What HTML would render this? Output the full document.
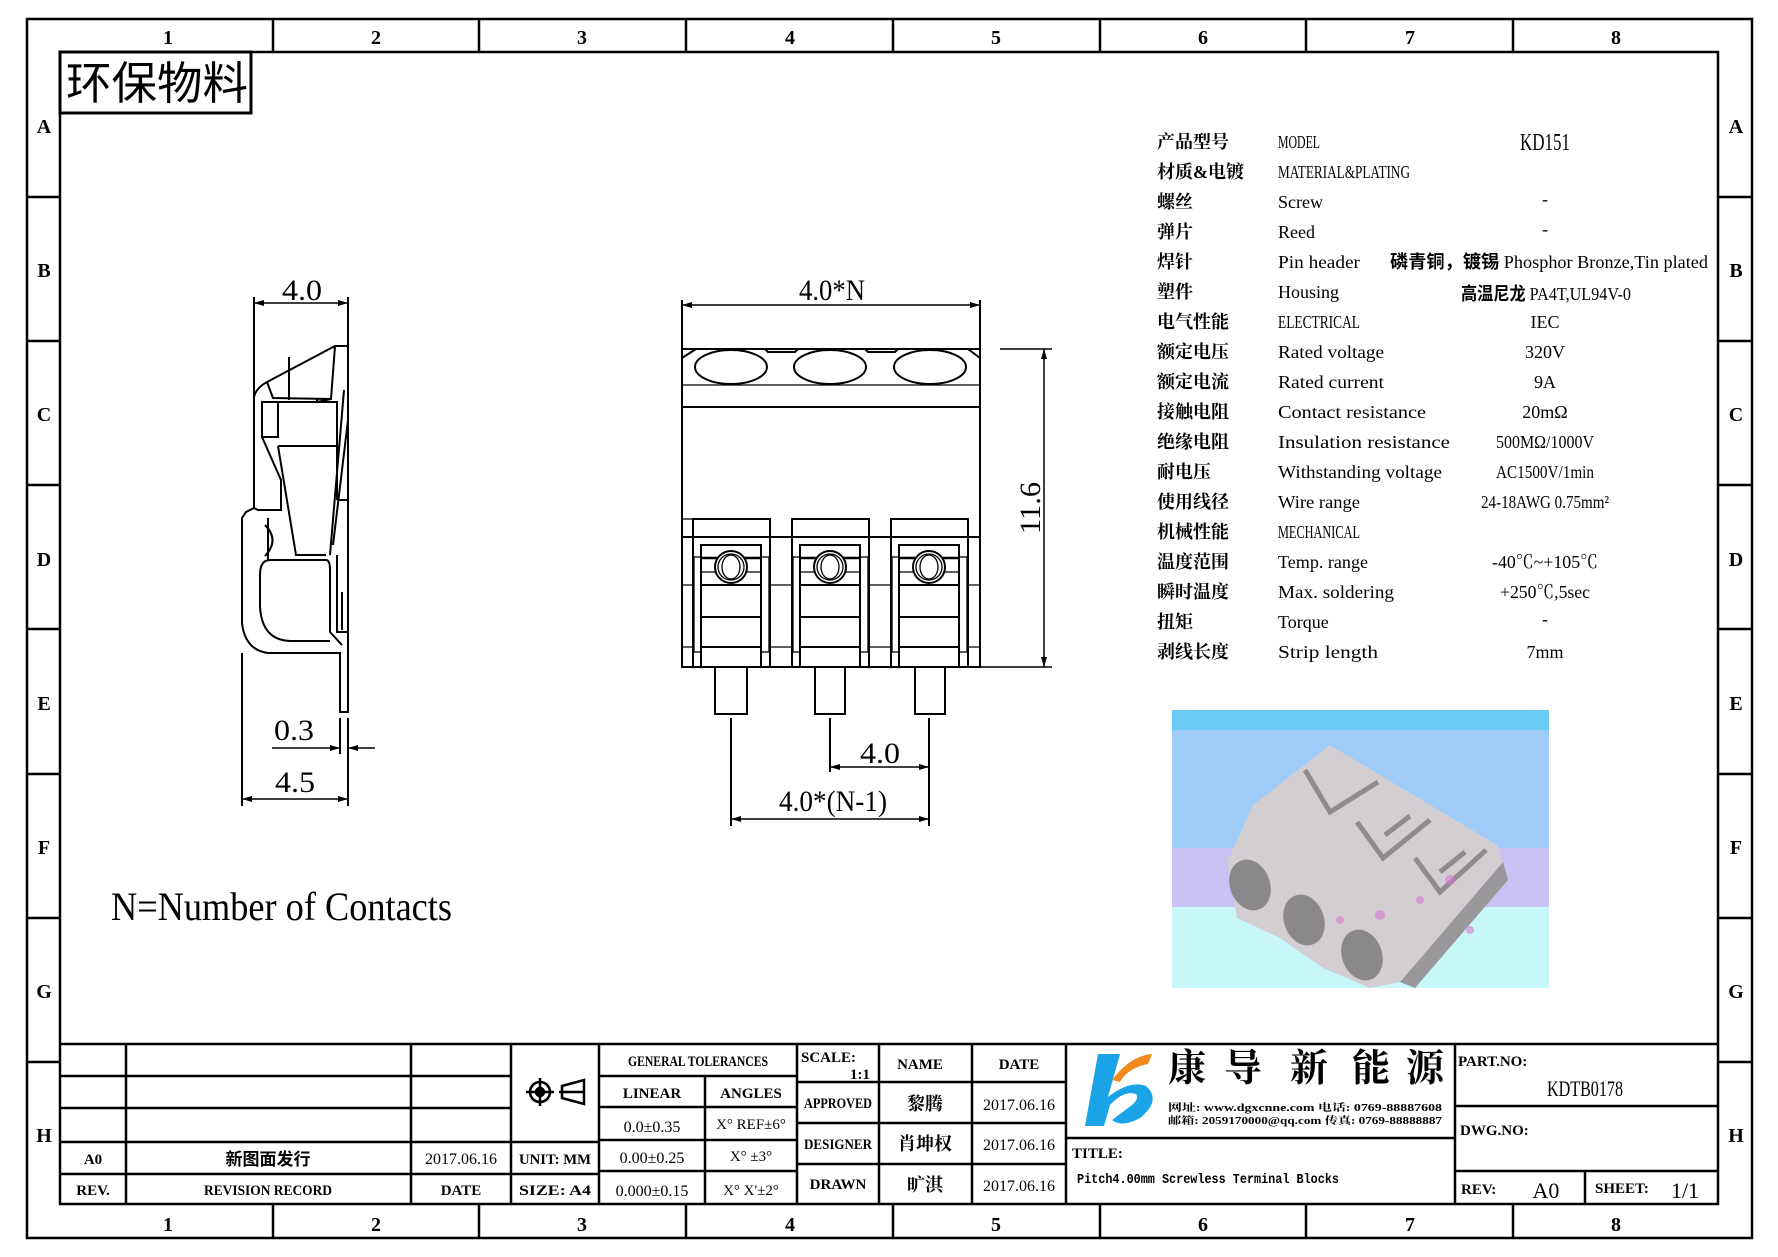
<!DOCTYPE html>
<html><head><meta charset="utf-8"><style>
html,body{margin:0;padding:0;background:#fff;}
svg{display:block;}
text{font-family:"Liberation Serif","Noto Serif CJK SC","Noto Sans CJK SC",serif;fill:#000;}
.s{font-family:"Liberation Sans","Noto Sans CJK SC",sans-serif;font-weight:bold;}
.cj{font-family:"Liberation Serif","Noto Sans CJK SC",sans-serif;font-weight:bold;}
</style></head><body>
<svg width="1778" height="1257" viewBox="0 0 1778 1257" xmlns="http://www.w3.org/2000/svg">
<defs>
<marker id="ar" viewBox="0 0 10 6" refX="10" refY="3" markerWidth="10" markerHeight="6" orient="auto-start-reverse" markerUnits="userSpaceOnUse"><path d="M0,0 L10,3 L0,6 z" fill="#000"/></marker>
</defs>
<!-- frames -->
<rect x="27" y="19" width="1725" height="1219" fill="none" stroke="#000" stroke-width="2.5"/>
<rect x="60" y="52" width="1658" height="1152" fill="none" stroke="#000" stroke-width="2.5"/>
<g stroke="#000" stroke-width="2.5">
<line x1="273" y1="19" x2="273" y2="52"/><line x1="479" y1="19" x2="479" y2="52"/><line x1="686" y1="19" x2="686" y2="52"/><line x1="893" y1="19" x2="893" y2="52"/><line x1="1100" y1="19" x2="1100" y2="52"/><line x1="1306" y1="19" x2="1306" y2="52"/><line x1="1513" y1="19" x2="1513" y2="52"/>
<line x1="273" y1="1204" x2="273" y2="1238"/><line x1="479" y1="1204" x2="479" y2="1238"/><line x1="686" y1="1204" x2="686" y2="1238"/><line x1="893" y1="1204" x2="893" y2="1238"/><line x1="1100" y1="1204" x2="1100" y2="1238"/><line x1="1306" y1="1204" x2="1306" y2="1238"/><line x1="1513" y1="1204" x2="1513" y2="1238"/>
<line x1="27" y1="197" x2="60" y2="197"/><line x1="27" y1="341" x2="60" y2="341"/><line x1="27" y1="485" x2="60" y2="485"/><line x1="27" y1="629" x2="60" y2="629"/><line x1="27" y1="774" x2="60" y2="774"/><line x1="27" y1="918" x2="60" y2="918"/><line x1="27" y1="1062" x2="60" y2="1062"/>
<line x1="1718" y1="197" x2="1752" y2="197"/><line x1="1718" y1="341" x2="1752" y2="341"/><line x1="1718" y1="485" x2="1752" y2="485"/><line x1="1718" y1="629" x2="1752" y2="629"/><line x1="1718" y1="774" x2="1752" y2="774"/><line x1="1718" y1="918" x2="1752" y2="918"/><line x1="1718" y1="1062" x2="1752" y2="1062"/>
</g>
<g class="s" font-size="20" text-anchor="middle">
<text x="168" y="44">1</text><text x="376" y="44">2</text><text x="582" y="44">3</text><text x="790" y="44">4</text><text x="996" y="44">5</text><text x="1203" y="44">6</text><text x="1410" y="44">7</text><text x="1616" y="44">8</text>
<text x="168" y="1231">1</text><text x="376" y="1231">2</text><text x="582" y="1231">3</text><text x="790" y="1231">4</text><text x="996" y="1231">5</text><text x="1203" y="1231">6</text><text x="1410" y="1231">7</text><text x="1616" y="1231">8</text>
<text x="44" y="133">A</text><text x="44" y="277">B</text><text x="44" y="421">C</text><text x="44" y="566">D</text><text x="44" y="710">E</text><text x="44" y="854">F</text><text x="44" y="998">G</text><text x="44" y="1142">H</text>
<text x="1736" y="133">A</text><text x="1736" y="277">B</text><text x="1736" y="421">C</text><text x="1736" y="566">D</text><text x="1736" y="710">E</text><text x="1736" y="854">F</text><text x="1736" y="998">G</text><text x="1736" y="1142">H</text>
</g>
<!-- 环保物料 -->
<rect x="60" y="52" width="191" height="61" fill="none" stroke="#000" stroke-width="3"/>
<text x="66" y="99" font-size="45" textLength="182" lengthAdjust="spacingAndGlyphs" style="font-family:'Noto Sans CJK SC',sans-serif">环保物料</text>

<!-- SIDE VIEW -->
<g fill="none" stroke="#000" stroke-width="2">
<line x1="254" y1="297" x2="254" y2="397"/><line x1="348" y1="297" x2="348" y2="346"/>
<line x1="254" y1="303" x2="348" y2="303" marker-start="url(#ar)" marker-end="url(#ar)" stroke-width="1.5"/>
<path d="M348,346 L335,346 L267,382 Q256,388 254,397 L254,508 L246,512 L242,518 L242,623 Q245,650 268,653 L340,653 L340,712 L348,712 L348,346"/>
<path d="M335,346 L331,399 L317,402 L317,398 M289,357 L289,400 M267,382 L273,398 L331,399"/>
<path d="M262,402 L262,437 L278,437 L278,402 Z M278,402 L337,402 L337,446 L278,446"/>
<path d="M262,437 L281,480 L281,510 L258,510 L254,508 M278,446 L296,555 L326,555"/>
<path d="M337,402 L337,500 M344,390 L330,555 M348,420 L333,545 M337,500 L348,500"/>
<path d="M268,518 L268,560 M265,525 Q280,540 265,556 M270,560 L326,560 Q330,560 330,570 L330,632 L342,645"/>
<path d="M270,560 Q260,560 260,575 L260,607 Q262,640 290,641 L330,641"/>
<path d="M337,590 L337,632 L348,632 M342,592 L342,630 M337,555 L337,590"/>
<line x1="340" y1="718" x2="340" y2="754"/><line x1="348" y1="718" x2="348" y2="806"/>
<line x1="272" y1="748" x2="340" y2="748" marker-end="url(#ar)" stroke-width="1.5"/>
<line x1="375" y1="748" x2="348" y2="748" marker-end="url(#ar)" stroke-width="1.5"/>
<line x1="242" y1="653" x2="242" y2="806"/>
<line x1="242" y1="799" x2="348" y2="799" marker-start="url(#ar)" marker-end="url(#ar)" stroke-width="1.5"/>
</g>
<g font-size="30" text-anchor="middle">
<text x="302" y="300" textLength="40" lengthAdjust="spacingAndGlyphs">4.0</text>
<text x="294" y="740" textLength="40" lengthAdjust="spacingAndGlyphs">0.3</text>
<text x="295" y="792" textLength="40" lengthAdjust="spacingAndGlyphs">4.5</text>
</g>

<!-- FRONT VIEW -->
<g fill="none" stroke="#000" stroke-width="2">
<line x1="682" y1="300" x2="682" y2="360"/><line x1="980" y1="300" x2="980" y2="360"/>
<line x1="682" y1="305" x2="980" y2="305" marker-start="url(#ar)" marker-end="url(#ar)" stroke-width="1.5"/>
<path d="M682,358 L696,349 L765,349 L768,352 L795,352 L798,349 L865,349 L868,352 L895,352 L898,349 L968,349 L980,358"/>
<rect x="682" y="349" width="298" height="318"/>
<ellipse cx="731" cy="367" rx="36" ry="17"/><ellipse cx="830" cy="367" rx="36" ry="17"/><ellipse cx="930" cy="367" rx="36" ry="17"/>
<line x1="682" y1="385" x2="980" y2="385" stroke-width="1.3"/>
<line x1="682" y1="407" x2="980" y2="407"/>
<line x1="682" y1="537" x2="980" y2="537"/>
<line x1="682" y1="519" x2="693" y2="519" stroke-width="1.3"/>
<line x1="682" y1="585" x2="980" y2="585" stroke-width="1.3"/>
<line x1="682" y1="647" x2="980" y2="647" stroke-width="1.3"/>
<line x1="1000" y1="349" x2="1052" y2="349" stroke-width="1.5"/><line x1="980" y1="667" x2="1052" y2="667" stroke-width="1.5"/>
<line x1="1044" y1="349" x2="1044" y2="667" marker-start="url(#ar)" marker-end="url(#ar)" stroke-width="1.5"/>
</g>
<g id="blk" fill="none" stroke="#000" stroke-width="2">
<rect x="693" y="519" width="77" height="148" fill="#fff"/>
<line x1="693" y1="537" x2="770" y2="537"/>
<rect x="701" y="545" width="60" height="122"/>
<rect x="694" y="557" width="7" height="95" stroke-width="1.3"/>
<rect x="761" y="557" width="8" height="95" stroke-width="1.3"/>
<line x1="701" y1="558" x2="761" y2="558" stroke-width="2.5"/>
<line x1="701" y1="572" x2="761" y2="572" stroke-width="1.3"/>
<line x1="701" y1="585" x2="761" y2="585"/>
<line x1="701" y1="617" x2="761" y2="617"/>
<line x1="701" y1="647" x2="761" y2="647"/>
<circle cx="731" cy="567" r="16" fill="#fff"/>
<circle cx="731" cy="567" r="13" stroke-width="1.3"/>
<ellipse cx="731" cy="567" rx="9" ry="12" stroke-width="1.3"/>
</g>
<use href="#blk" x="99"/><use href="#blk" x="198"/>
<g fill="#fff" stroke="#000" stroke-width="2">
<rect x="715" y="667" width="32" height="47"/><rect x="815" y="667" width="30" height="47"/><rect x="915" y="667" width="30" height="47"/>
</g>
<g fill="none" stroke="#000" stroke-width="2">
<line x1="731" y1="718" x2="731" y2="826"/><line x1="830" y1="718" x2="830" y2="772"/><line x1="929" y1="718" x2="929" y2="826"/>
<line x1="830" y1="767" x2="929" y2="767" marker-start="url(#ar)" marker-end="url(#ar)" stroke-width="1.5"/>
<line x1="731" y1="819" x2="929" y2="819" marker-start="url(#ar)" marker-end="url(#ar)" stroke-width="1.5"/>
</g>
<g font-size="30" text-anchor="middle">
<text x="832" y="300" textLength="66" lengthAdjust="spacingAndGlyphs">4.0*N</text>
<text x="880" y="763" textLength="40" lengthAdjust="spacingAndGlyphs">4.0</text>
<text x="833" y="811" textLength="108" lengthAdjust="spacingAndGlyphs">4.0*(N-1)</text>
<text transform="translate(1040,508) rotate(-90)" textLength="52" lengthAdjust="spacingAndGlyphs">11.6</text>
</g>
<text x="111" y="920" font-size="40" textLength="341" lengthAdjust="spacingAndGlyphs">N=Number of Contacts</text>

<!-- SPEC TABLE -->
<g font-size="18">
<g class="cj">
<text x="1157" y="148">产品型号</text><text x="1157" y="178">材质&amp;电镀</text><text x="1157" y="208">螺丝</text><text x="1157" y="238">弹片</text><text x="1157" y="268">焊针</text><text x="1157" y="298">塑件</text><text x="1157" y="328">电气性能</text><text x="1157" y="358">额定电压</text><text x="1157" y="388">额定电流</text><text x="1157" y="418">接触电阻</text><text x="1157" y="448">绝缘电阻</text><text x="1157" y="478">耐电压</text><text x="1157" y="508">使用线径</text><text x="1157" y="538">机械性能</text><text x="1157" y="568">温度范围</text><text x="1157" y="598">瞬时温度</text><text x="1157" y="628">扭矩</text><text x="1157" y="658">剥线长度</text>
</g>
<g>
<text x="1278" y="148" textLength="42" lengthAdjust="spacingAndGlyphs">MODEL</text>
<text x="1278" y="178" textLength="132" lengthAdjust="spacingAndGlyphs">MATERIAL&amp;PLATING</text>
<text x="1278" y="208">Screw</text><text x="1278" y="238">Reed</text>
<text x="1278" y="268" textLength="82" lengthAdjust="spacingAndGlyphs">Pin header</text>
<text x="1278" y="298">Housing</text>
<text x="1278" y="328" textLength="82" lengthAdjust="spacingAndGlyphs">ELECTRICAL</text>
<text x="1278" y="358" textLength="106" lengthAdjust="spacingAndGlyphs">Rated voltage</text>
<text x="1278" y="388" textLength="106" lengthAdjust="spacingAndGlyphs">Rated current</text>
<text x="1278" y="418" textLength="148" lengthAdjust="spacingAndGlyphs">Contact resistance</text>
<text x="1278" y="448" textLength="172" lengthAdjust="spacingAndGlyphs">Insulation resistance</text>
<text x="1278" y="478" textLength="164" lengthAdjust="spacingAndGlyphs">Withstanding voltage</text>
<text x="1278" y="508" textLength="82" lengthAdjust="spacingAndGlyphs">Wire range</text>
<text x="1278" y="538" textLength="82" lengthAdjust="spacingAndGlyphs">MECHANICAL</text>
<text x="1278" y="568" textLength="90" lengthAdjust="spacingAndGlyphs">Temp. range</text>
<text x="1278" y="598" textLength="116" lengthAdjust="spacingAndGlyphs">Max. soldering</text>
<text x="1278" y="628">Torque</text>
<text x="1278" y="658" textLength="100" lengthAdjust="spacingAndGlyphs">Strip length</text>
</g>
<g text-anchor="middle">
<text x="1545" y="150" font-size="24" textLength="50" lengthAdjust="spacingAndGlyphs">KD151</text>
<text x="1545" y="205">-</text><text x="1545" y="235">-</text>
<text x="1545" y="328">IEC</text><text x="1545" y="358">320V</text><text x="1545" y="388">9A</text><text x="1545" y="418">20mΩ</text>
<text x="1545" y="448" textLength="98" lengthAdjust="spacingAndGlyphs">500MΩ/1000V</text>
<text x="1545" y="478" textLength="98" lengthAdjust="spacingAndGlyphs">AC1500V/1min</text>
<text x="1545" y="508" textLength="128" lengthAdjust="spacingAndGlyphs">24-18AWG 0.75mm²</text>
<text x="1545" y="568" textLength="106" lengthAdjust="spacingAndGlyphs">-40℃~+105℃</text>
<text x="1545" y="598" textLength="90" lengthAdjust="spacingAndGlyphs">+250℃,5sec</text>
<text x="1545" y="625">-</text>
<text x="1545" y="658">7mm</text>
</g>
<text x="1390" y="268" textLength="318" lengthAdjust="spacingAndGlyphs"><tspan class="cj">磷青铜，镀锡</tspan> Phosphor Bronze,Tin plated</text>
<text x="1461" y="300" textLength="170" lengthAdjust="spacingAndGlyphs"><tspan class="cj">高温尼龙</tspan> PA4T,UL94V-0</text>
</g>

<!-- PHOTO -->
<rect x="1172" y="710" width="377" height="20" fill="#6ccbf5"/>
<rect x="1172" y="730" width="377" height="118" fill="#9ecbf7"/>
<rect x="1172" y="848" width="377" height="59" fill="#c9c3f3"/>
<rect x="1172" y="907" width="377" height="81" fill="#c8f7fa"/>
<polygon points="1400,982 1503,862 1508,880 1415,988" fill="#9a979a"/>
<polygon points="1227,862 1253,805 1330,745 1497,845 1503,862 1400,982 1370,988 1323,968 1280,938 1237,918" fill="#d3ced2"/>
<g fill="none" stroke="#8f8b8f" stroke-width="5">
<path d="M1305,770 L1330,812 L1378,782"/><path d="M1357,822 L1383,858 L1430,820 M1385,835 L1410,816"/><path d="M1415,858 L1440,892 L1486,850 M1440,872 L1465,852"/>
</g>
<g fill="#8a888a"><ellipse cx="1250" cy="885" rx="20" ry="26" transform="rotate(-20 1250 885)"/><ellipse cx="1304" cy="920" rx="20" ry="26" transform="rotate(-20 1304 920)"/><ellipse cx="1362" cy="955" rx="20" ry="26" transform="rotate(-20 1362 955)"/></g>
<g fill="#d67ccf" opacity="0.6"><circle cx="1340" cy="920" r="4"/><circle cx="1380" cy="915" r="5"/><circle cx="1420" cy="900" r="4"/><circle cx="1450" cy="880" r="5"/><circle cx="1470" cy="930" r="4"/></g>

<!-- TITLE BLOCK -->
<g fill="none" stroke="#000" stroke-width="2.5">
<line x1="60" y1="1044" x2="1718" y2="1044"/>
<line x1="60" y1="1076" x2="511" y2="1076"/><line x1="60" y1="1108" x2="511" y2="1108"/><line x1="60" y1="1142" x2="599" y2="1142"/><line x1="60" y1="1174" x2="599" y2="1174"/>
<line x1="126" y1="1044" x2="126" y2="1204"/><line x1="411" y1="1044" x2="411" y2="1204"/><line x1="511" y1="1044" x2="511" y2="1204"/><line x1="599" y1="1044" x2="599" y2="1204"/>
<line x1="599" y1="1076" x2="797" y2="1076"/><line x1="599" y1="1107" x2="797" y2="1107"/><line x1="599" y1="1140" x2="797" y2="1140"/><line x1="599" y1="1171" x2="797" y2="1171"/>
<line x1="705" y1="1076" x2="705" y2="1204"/><line x1="797" y1="1044" x2="797" y2="1204"/>
<line x1="797" y1="1082" x2="1066" y2="1082"/><line x1="797" y1="1123" x2="1066" y2="1123"/><line x1="797" y1="1164" x2="1066" y2="1164"/>
<line x1="879" y1="1044" x2="879" y2="1204"/><line x1="972" y1="1044" x2="972" y2="1204"/><line x1="1066" y1="1044" x2="1066" y2="1204"/>
<line x1="1066" y1="1138" x2="1455" y2="1138"/><line x1="1455" y1="1044" x2="1455" y2="1204"/>
<line x1="1455" y1="1106" x2="1718" y2="1106"/><line x1="1455" y1="1171" x2="1718" y2="1171"/><line x1="1585" y1="1171" x2="1585" y2="1204"/>
</g>
<!-- symbol -->
<g fill="none" stroke="#000" stroke-width="2.5">
<circle cx="540" cy="1092" r="10"/><circle cx="540" cy="1092" r="4" fill="#000"/>
<line x1="526" y1="1092" x2="554" y2="1092"/><line x1="540" y1="1078" x2="540" y2="1106"/>
<path d="M559,1092 L585,1092 M562,1086 L584,1080 L584,1104 L562,1098 Z"/>
</g>
<g font-size="15" text-anchor="middle" font-weight="bold">
<text x="93" y="1164">A0</text><text x="268" y="1165" class="cj" font-size="17">新图面发行</text><text x="461" y="1164" font-size="16" font-weight="normal">2017.06.16</text>
<text x="93" y="1195">REV.</text><text x="268" y="1195" textLength="128" lengthAdjust="spacingAndGlyphs">REVISION RECORD</text><text x="461" y="1195">DATE</text>
<text x="555" y="1164" textLength="72" lengthAdjust="spacingAndGlyphs">UNIT: MM</text><text x="555" y="1195" textLength="72" lengthAdjust="spacingAndGlyphs">SIZE: A4</text>
<text x="698" y="1066" textLength="140" lengthAdjust="spacingAndGlyphs">GENERAL TOLERANCES</text>
<text x="652" y="1098">LINEAR</text><text x="751" y="1098">ANGLES</text>
<text x="652" y="1132" font-weight="normal" font-size="16">0.0±0.35</text><text x="751" y="1129" font-weight="normal" font-size="15">X° REF±6°</text>
<text x="652" y="1163" font-weight="normal" font-size="16">0.00±0.25</text><text x="751" y="1161" font-weight="normal" font-size="15">X°  ±3°</text>
<text x="652" y="1196" font-weight="normal" font-size="16">0.000±0.15</text><text x="751" y="1195" font-weight="normal" font-size="15">X° X'±2°</text>
<text x="920" y="1069">NAME</text><text x="1019" y="1069">DATE</text>
<text x="838" y="1108" textLength="68" lengthAdjust="spacingAndGlyphs">APPROVED</text>
<text x="838" y="1149" textLength="68" lengthAdjust="spacingAndGlyphs">DESIGNER</text>
<text x="838" y="1189">DRAWN</text>
<g class="cj" font-size="18"><text x="925" y="1110">黎腾</text><text x="925" y="1150">肖坤权</text><text x="925" y="1191">旷淇</text></g>
<g font-weight="normal" font-size="16"><text x="1019" y="1110">2017.06.16</text><text x="1019" y="1150">2017.06.16</text><text x="1019" y="1191">2017.06.16</text></g>
</g>
<text x="801" y="1062" font-size="15" font-weight="bold">SCALE:</text>
<text x="870" y="1079" font-size="15" font-weight="bold" text-anchor="end">1:1</text>
<!-- logo -->
<path d="M1098,1054 L1120,1054 L1108,1097 Q1130,1080 1146,1086 Q1162,1100 1140,1118 Q1122,1128 1112,1120 L1128,1108 Q1140,1100 1136,1094 Q1124,1090 1110,1105 L1104,1126 L1085,1126 Z" fill="#1aa3e6"/>
<path d="M1112,1080 Q1130,1056 1152,1054 L1148,1064 Q1128,1068 1120,1082 Z" fill="#f08a1c"/>
<g font-size="38" class="cj" style="font-family:'Noto Sans CJK SC',sans-serif"><text x="1168" y="1081">康</text><text x="1224" y="1081">导</text><text x="1290" y="1081">新</text><text x="1352" y="1081">能</text><text x="1406" y="1081">源</text></g>
<g font-size="10" font-weight="bold"><text x="1168" y="1111" textLength="274" lengthAdjust="spacingAndGlyphs">网址: www.dgxcnne.com   电话: 0769-88887608</text><text x="1168" y="1124" textLength="274" lengthAdjust="spacingAndGlyphs">邮箱: 2059170000@qq.com 传真: 0769-88888887</text></g>
<text x="1072" y="1158" font-size="15" font-weight="bold">TITLE:</text>
<text x="1077" y="1183" font-size="14" font-weight="bold" textLength="262" lengthAdjust="spacingAndGlyphs" style="font-family:'Liberation Mono',monospace">Pitch4.00mm Screwless Terminal Blocks</text>
<text x="1458" y="1066" font-size="15" font-weight="bold">PART.NO:</text>
<text x="1585" y="1096" font-size="22" text-anchor="middle" textLength="76" lengthAdjust="spacingAndGlyphs">KDTB0178</text>
<text x="1460" y="1135" font-size="15" font-weight="bold">DWG.NO:</text>
<text x="1461" y="1194" font-size="15" font-weight="bold">REV:</text>
<text x="1546" y="1198" font-size="22" text-anchor="middle">A0</text>
<text x="1595" y="1193" font-size="15" font-weight="bold">SHEET:</text>
<text x="1685" y="1198" font-size="22" text-anchor="middle">1/1</text>
</svg>
</body></html>
